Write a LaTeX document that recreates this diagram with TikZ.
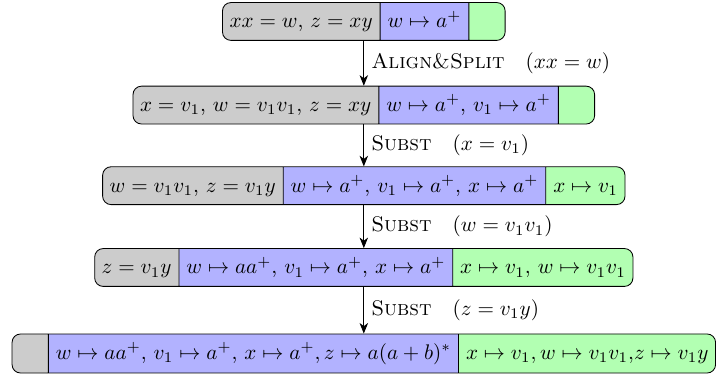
\documentclass[tikz,border=0pt]{standalone}
\usetikzlibrary{arrows.meta,shapes.multipart}

\tikzset{
  state/.style={rectangle split, rectangle split horizontal,
    rectangle split parts=3, draw, rounded corners, inner ysep=4pt,
    rectangle split part align=base,
    rectangle split part fill={gray!40,blue!30,green!30},
    rectangle split empty part width=6pt},
  rulelabel/.style={right}
}

\begin{document}
\begin{tikzpicture}[>={Stealth[length=5pt,width=4pt,inset=1.5pt]}]
            \node[state] (s1) at (0,0)
              {$xx = w$, $z = xy$\nodepart{two}$w \mapsto a^+$\nodepart{three}};
            \node[state] (s2) at (0,-1.39)
              {$x = v_1$, $w = v_1v_1$, $z = xy$\nodepart{two}$w \mapsto a^+$, $v_1 \mapsto a^+$\nodepart{three}};
            \node[state] (s3) at (0,-2.73)
              {$w = v_1v_1$, $z = v_1y$\nodepart{two}$w \mapsto a^+$, $v_1 \mapsto a^+$, $x \mapsto a^+$\nodepart{three}$x \mapsto v_1$};
            \node[state] (s4) at (0,-4.09)
              {$z = v_1y$\nodepart{two}$w \mapsto aa^+$, $v_1 \mapsto a^+$, $x \mapsto a^+$\nodepart{three}$x \mapsto v_1$, $w \mapsto v_1v_1$};
            \node[state] (s5) at (0,-5.52)
              {\nodepart{two}$w \mapsto aa^+$, $v_1 \mapsto a^+$, $x \mapsto a^+, z \mapsto a(a+b)^*$\nodepart{three}$x \mapsto v_1, w \mapsto v_1v_1{,}z \mapsto v_1y$};

            \draw[->] (s1) -- node[rulelabel] {\textsc{Align\&Split}\quad$(xx = w)$} (s2);
            \draw[->] (s2) -- node[rulelabel] {\textsc{Subst}\quad$(x = v_1)$} (s3);
            \draw[->] (s3) -- node[rulelabel] {\textsc{Subst}\quad$(w = v_1v_1)$} (s4);
            \draw[->] (s4) -- node[rulelabel] {\textsc{Subst}\quad$(z = v_1y)$} (s5);

            \path (s5.south west) ++(-5.5pt,-2.3pt) coordinate (bl);
            \path (s1.north -| s5.east) ++(0,1pt) coordinate (tr);
            \useasboundingbox (bl) rectangle (tr);
        \end{tikzpicture}
\end{document}
